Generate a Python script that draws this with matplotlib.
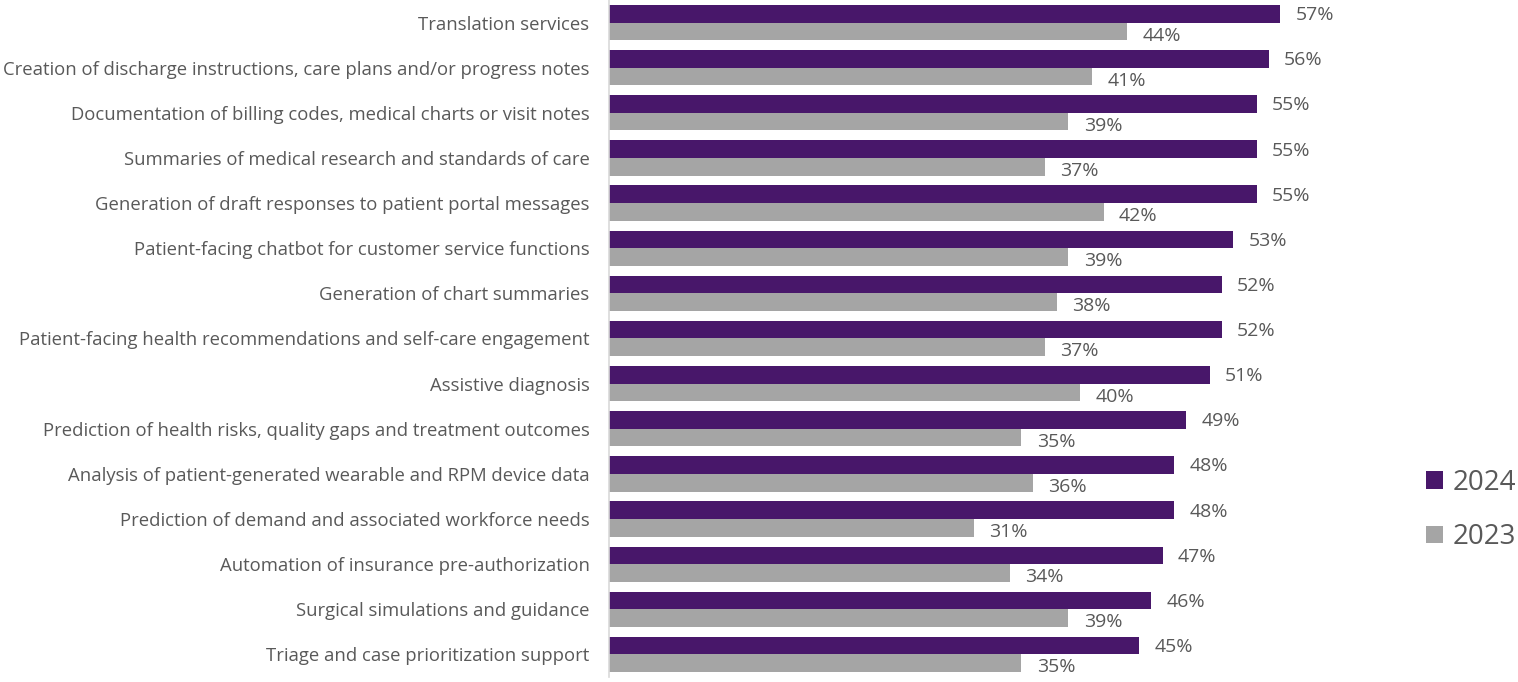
import matplotlib.pyplot as plt
import numpy as np

plt.rcParams['font.family'] = ['Open Sans', 'DejaVu Sans']

categories = [
    'Translation services',
    'Creation of discharge instructions, care plans and/or progress notes',
    'Documentation of billing codes, medical charts or visit notes',
    'Summaries of medical research and standards of care',
    'Generation of draft responses to patient portal messages',
    'Patient-facing chatbot for customer service functions',
    'Generation of chart summaries',
    'Patient-facing health recommendations and self-care engagement',
    'Assistive diagnosis',
    'Prediction of health risks, quality gaps and treatment outcomes',
    'Analysis of patient-generated wearable and RPM device data',
    'Prediction of demand and associated workforce needs',
    'Automation of insurance pre-authorization',
    'Surgical simulations and guidance',
    'Triage and case prioritization support',
]
vals_2024 = [57, 56, 55, 55, 55, 53, 52, 52, 51, 49, 48, 48, 47, 46, 45]
vals_2023 = [44, 41, 39, 37, 42, 39, 38, 37, 40, 35, 36, 31, 34, 39, 35]

purple = '#48176A'
grey = '#A5A5A5'
txt = '#595959'

fig = plt.figure(figsize=(15.18, 6.82), dpi=100)
ax = fig.add_axes([609 / 1518, 5 / 682, 800 / 1518, 677 / 682])

y = np.arange(len(categories))
h = 0.39
b1 = ax.barh(y - h / 2, vals_2024, height=h, color=purple, label='2024')
b2 = ax.barh(y + h / 2, vals_2023, height=h, color=grey, label='2023')

# value labels just past the bar ends; the 2023 ones sit a touch lower
for bars, vals, dy in ((b1, vals_2024, -1), (b2, vals_2023, -3)):
    for bar, v in zip(bars, vals):
        ax.annotate(f'{v}%', (v, bar.get_y() + bar.get_height() / 2),
                    xytext=(11, dy), textcoords='offset points',
                    ha='left', va='center', fontsize=14, color=txt)

ax.set_ylim(len(categories) - 0.5, -0.5)
ax.set_xlim(0, 800 / 11.78)
ax.set_yticks(y)
ax.set_yticklabels(categories, fontsize=13.3, color=txt)
ax.tick_params(axis='y', length=0, pad=14)
ax.set_xticks([])
for s in ('top', 'right', 'bottom'):
    ax.spines[s].set_visible(False)
ax.spines['left'].set_color('#D9D9D9')
ax.spines['left'].set_linewidth(1.2)

fig.legend(handles=[b1, b2], loc='center right',
           bbox_to_anchor=(1516 / 1518, (682 - 510) / 682),
           frameon=False, fontsize=20, labelcolor=txt, handlelength=0.6,
           handleheight=0.6, handletextpad=0.35, labelspacing=0.95,
           borderpad=0, borderaxespad=0)

fig.savefig('out.png', dpi=100)
